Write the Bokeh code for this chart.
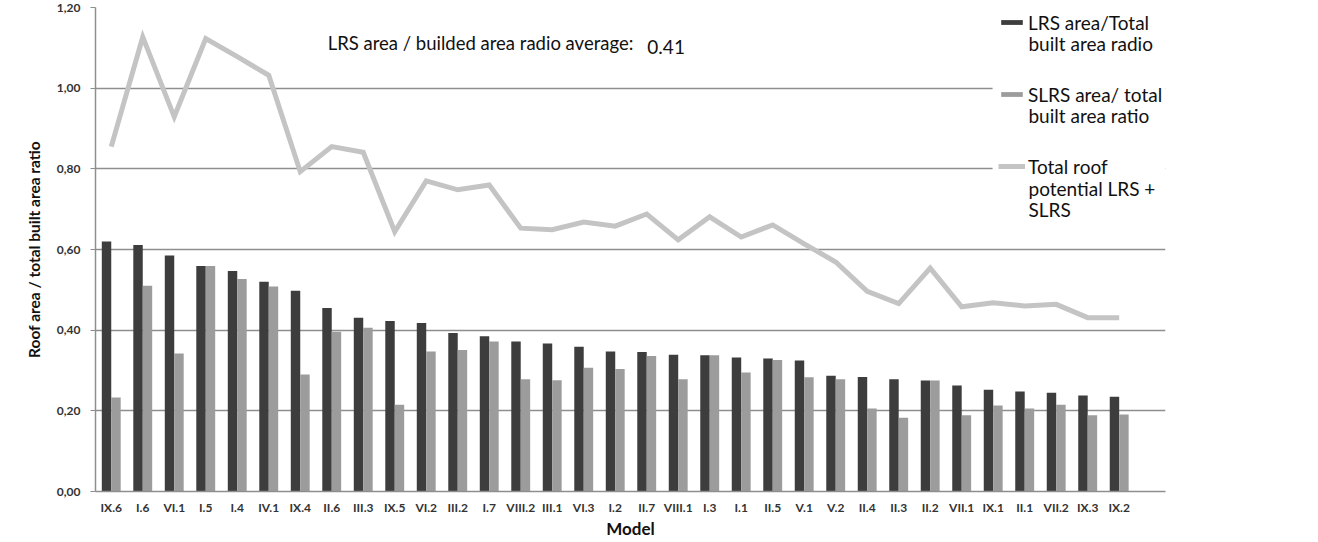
from bokeh.plotting import figure
from bokeh.models import (Range1d, FixedTicker, CustomJSTickFormatter, Legend,
                          LegendItem, Label, ColumnDataSource, BoxAnnotation)
from bokeh.transform import dodge
from bokeh.embed import file_html
from bokeh.resources import INLINE

# ---------------- data ----------------
models = ["IX.6", "I.6", "VI.1", "I.5", "I.4", "IV.1", "IX.4", "II.6", "III.3", "IX.5",
          "VI.2", "III.2", "I.7", "VIII.2", "III.1", "VI.3", "I.2", "II.7", "VIII.1", "I.3",
          "I.1", "II.5", "V.1", "V.2", "II.4", "II.3", "II.2", "VII.1", "IX.1", "II.1",
          "VII.2", "IX.3", "IX.2"]
lrs_ratio = [0.620, 0.611, 0.585, 0.559, 0.547, 0.520, 0.498, 0.455, 0.431, 0.423,
             0.418, 0.393, 0.385, 0.372, 0.367, 0.359, 0.347, 0.346, 0.339, 0.338,
             0.332, 0.330, 0.325, 0.287, 0.284, 0.278, 0.275, 0.263, 0.252, 0.248,
             0.245, 0.238, 0.235]
slrs_ratio = [0.233, 0.510, 0.342, 0.559, 0.527, 0.508, 0.290, 0.396, 0.406, 0.215,
              0.347, 0.351, 0.372, 0.278, 0.276, 0.307, 0.304, 0.336, 0.278, 0.338,
              0.295, 0.326, 0.283, 0.278, 0.206, 0.183, 0.275, 0.189, 0.213, 0.206,
              0.215, 0.189, 0.191]
total_ratio = [0.855, 1.127, 0.929, 1.123, 1.078, 1.032, 0.793, 0.855, 0.841, 0.644,
               0.770, 0.748, 0.760, 0.653, 0.649, 0.668, 0.658, 0.688, 0.624, 0.681,
               0.631, 0.661, 0.614, 0.569, 0.496, 0.466, 0.554, 0.458, 0.468, 0.460,
               0.464, 0.431, 0.431]
y_ticks = [0.0, 0.2, 0.4, 0.6, 0.8, 1.0, 1.2]
average = 0.41

FONT = "Lato"
TXT = "#111111"

src = ColumnDataSource(dict(x=list(range(len(models))), lrs=lrs_ratio,
                            slrs=slrs_ratio, total=total_ratio))

p = figure(width=1316, height=541,
           x_range=Range1d(-0.5, 33.47), y_range=Range1d(0, 1.2),
           output_backend="svg", toolbar_location=None,
           min_border_left=95, min_border_top=7, min_border_bottom=49,
           min_border_right=151)
p.outline_line_color = None
p.background_fill_color = "white"

# grid
p.xgrid.visible = False
p.ygrid.ticker = FixedTicker(ticks=y_ticks)
p.ygrid.grid_line_color = "#8e8e8e"
p.ygrid.grid_line_width = 1.5

# white backdrop of the legend area (hides the gridlines behind the legend)
p.add_layout(BoxAnnotation(left=27.98, bottom=0.775, top=1.19, fill_color="white",
                           fill_alpha=1.0, line_color=None, level="glyph"))

# bars and line
dark = p.vbar(x=dodge("x", -0.15, range=p.x_range), top="lrs", width=0.3, source=src,
              fill_color="#3d3d3d", line_color=None)
light = p.vbar(x=dodge("x", 0.15, range=p.x_range), top="slrs", width=0.3, source=src,
               fill_color="#9c9c9c", line_color=None)
line = p.line("x", "total", source=src, line_width=5, line_color="#c4c4c4",
              line_join="miter")

# axes
p.yaxis.ticker = FixedTicker(ticks=y_ticks)
p.yaxis.formatter = CustomJSTickFormatter(code="return tick.toFixed(2).replace('.', ',');")
p.yaxis.axis_label = "Roof area / total built area ratio"
p.yaxis.major_tick_out = 5
p.yaxis.major_tick_in = 0
p.yaxis.minor_tick_line_color = None
p.yaxis.major_label_standoff = 10
p.yaxis.axis_label_standoff = 11
p.yaxis.major_label_text_font_size = "12px"
p.yaxis.axis_label_text_font_size = "15.5px"

p.xaxis.ticker = FixedTicker(ticks=list(range(len(models))))
p.xaxis.formatter = CustomJSTickFormatter(args=dict(labels=models),
                                          code="return labels[Math.round(tick)];")
p.xaxis.axis_label = "Model"
p.xaxis.major_tick_out = 0
p.xaxis.major_tick_in = 0
p.xaxis.minor_tick_line_color = None
p.xaxis.major_label_standoff = 8
p.xaxis.axis_label_standoff = 0
p.xaxis.major_label_text_font_size = "12px"
p.xaxis.axis_label_text_font_size = "17px"

for ax in (p.xaxis[0], p.yaxis[0]):
    ax.axis_line_color = "#8e8e8e"
    ax.axis_line_width = 1.5
    ax.major_tick_line_color = "#8e8e8e"
    ax.major_label_text_font = FONT
    ax.major_label_text_font_style = "bold"
    ax.major_label_text_color = "#333333"
    ax.axis_label_text_font = FONT
    ax.axis_label_text_font_style = "bold"
    ax.axis_label_text_color = TXT

# legend (first lines) -- continuation lines as labels below
legend = Legend(items=[LegendItem(label="LRS area/Total", renderers=[dark]),
                       LegendItem(label="SLRS area/ total", renderers=[light]),
                       LegendItem(label="Total roof", renderers=[line])],
                location=(903, 313), padding=0, margin=0, spacing=48,
                glyph_width=27, glyph_height=6, label_standoff=3, label_height=24,
                label_text_font=FONT, label_text_font_size="19px",
                label_text_color=TXT,
                border_line_color=None, background_fill_alpha=0.0)
p.add_layout(legend, "center")

cont = [("built area radio", 1.111), ("built area ratio", 0.933),
        ("potential LRS +", 0.752), ("SLRS", 0.698)]
for txt, yy in cont:
    p.add_layout(Label(x=29.12, y=yy, text=txt, text_font=FONT, text_font_size="19px",
                       text_color=TXT, text_baseline="middle", text_align="left"))

p.add_layout(Label(x=6.87, y=1.111, text="LRS area / builded area radio average:",
                   text_font=FONT, text_font_size="18.5px", text_color=TXT,
                   text_baseline="middle", text_align="left"))
p.add_layout(Label(x=17.02, y=1.101, text=f"{average:.2f}",
                   text_font=FONT, text_font_size="19px", text_color=TXT,
                   text_baseline="middle", text_align="left"))

open("out.html", "w").write(file_html(p, INLINE))
